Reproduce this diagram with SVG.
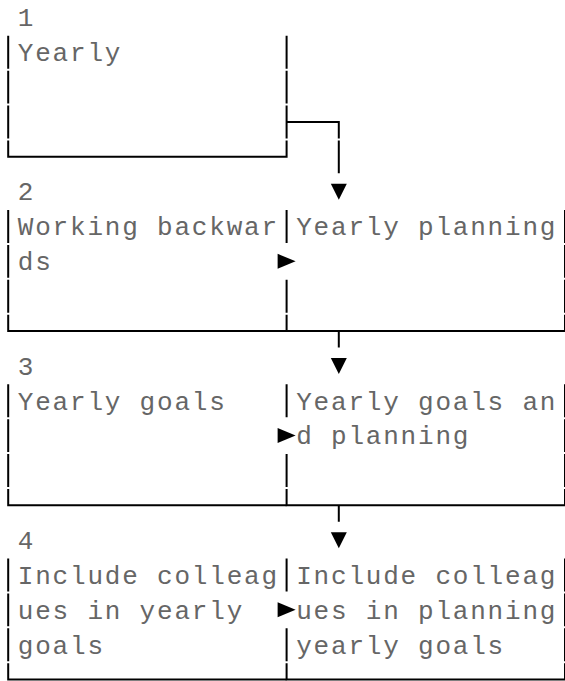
<svg xmlns="http://www.w3.org/2000/svg" width="565" height="681" viewBox="0 0 565 681">
<style>
.t{font-family:"Liberation Mono","Courier New",monospace;font-size:26px;letter-spacing:1.8px;fill:#666}
.ln{fill:none;stroke:#000;stroke-width:2;stroke-linejoin:miter}
.ah{fill:#000}
</style>
<rect width="565" height="681" fill="#fff"/>
<g id="node-1">
<text class="t" x="17.8" y="26.2">1</text>
<text class="t" x="17.8" y="61.05">Yearly</text>
<path class="ln" d="M8.2 35.85V68.7M8.2 70.7V103.55M8.2 105.55V138.4M8.2 140.4V156.8H286.6V140.4M286.6 35.85V68.7M286.6 70.7V103.55M286.6 105.55V138.4"/>
</g>
<g id="node-2a">
<text class="t" x="17.8" y="200.45">2</text>
<text class="t" x="17.8" y="235.3">Working backwar</text>
<text class="t" x="17.8" y="270.15">ds</text>
<path class="ln" d="M8.2 210.1V242.95M8.2 244.95V277.8M8.2 279.8V312.65M8.2 314.65V331.05H286.6"/>
</g>
<g id="node-2b">
<text class="t" x="296.2" y="235.3">Yearly planning</text>
<path class="ln" d="M286.6 210.1V242.95M286.6 279.8V312.65M286.6 314.65V331.05H565V314.65M565 279.8V312.65M565 244.95V277.8M565 210.1V242.95"/>
</g>
<g id="node-3a">
<text class="t" x="17.8" y="374.7">3</text>
<text class="t" x="17.8" y="409.55">Yearly goals</text>
<path class="ln" d="M8.2 384.35V417.2M8.2 419.2V452.05M8.2 454.05V486.9M8.2 488.9V505.3H286.6"/>
</g>
<g id="node-3b">
<text class="t" x="296.2" y="409.55">Yearly goals an</text>
<text class="t" x="296.2" y="444.4">d planning</text>
<path class="ln" d="M286.6 384.35V417.2M286.6 454.05V486.9M286.6 488.9V505.3H565V488.9M565 454.05V486.9M565 419.2V452.05M565 384.35V417.2"/>
</g>
<g id="node-4a">
<text class="t" x="17.8" y="548.95">4</text>
<text class="t" x="17.8" y="583.8">Include colleag</text>
<text class="t" x="17.8" y="618.65">ues in yearly</text>
<text class="t" x="17.8" y="653.5">goals</text>
<path class="ln" d="M8.2 558.6V591.45M8.2 593.45V626.3M8.2 628.3V661.15M8.2 663.15V679.55H286.6"/>
</g>
<g id="node-4b">
<text class="t" x="296.2" y="583.8">Include colleag</text>
<text class="t" x="296.2" y="618.65">ues in planning</text>
<text class="t" x="296.2" y="653.5">yearly goals</text>
<path class="ln" d="M286.6 558.6V591.45M286.6 628.3V661.15M286.6 663.15V679.55H565V663.15M565 628.3V661.15M565 593.45V626.3M565 558.6V591.45"/>
</g>
<g id="connectors">
<path class="ln" d="M286.6 121.95H338.8V138.4M338.8 140.4V173.25"/>
<polygon class="ah" points="330.8,183.65 346.8,183.65 338.8,199.65"/>
<polygon class="ah" points="277.6,253.85 295.6,261.35 277.6,268.85"/>
<path class="ln" d="M338.8 331.05V347.5"/>
<polygon class="ah" points="330.8,357.9 346.8,357.9 338.8,373.9"/>
<polygon class="ah" points="277.6,428.1 295.6,435.6 277.6,443.1"/>
<path class="ln" d="M338.8 505.3V521.75"/>
<polygon class="ah" points="330.8,532.15 346.8,532.15 338.8,548.15"/>
<polygon class="ah" points="277.6,602.35 295.6,609.85 277.6,617.35"/>
</g>
</svg>
